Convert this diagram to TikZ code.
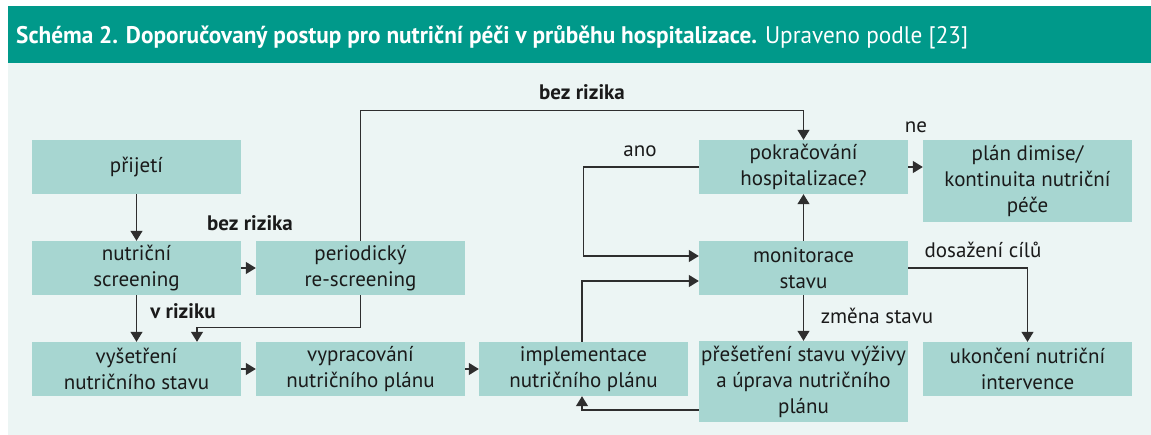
\documentclass[tikz,border=0pt]{standalone}
\usepackage{fontspec}
\usepackage{graphicx}
\setmainfont{PT Sans}
\usetikzlibrary{arrows.meta}

\definecolor{headteal}{HTML}{00998A}
\definecolor{boxfill}{HTML}{A7D6D1}
\definecolor{panelbg}{HTML}{ECF5F4}
\definecolor{inktext}{HTML}{1A1A1A}
\definecolor{linegray}{HTML}{2E2E2E}

\begin{document}
\begin{tikzpicture}[x=1pt,y=-1pt,
    stepbox/.style={rectangle,fill=boxfill,text=inktext,minimum width=209pt,
      minimum height=54pt,inner sep=0pt,align=center,
      font=\fontsize{21}{26}\selectfont},
    tag/.style={text=inktext,inner sep=0pt,font=\fontsize{21}{26}\selectfont},
    boldtag/.style={tag,font=\fontsize{21}{26}\selectfont\bfseries}]
      \useasboundingbox (0,0) rectangle (1151,435);
      \fill[panelbg] (8,63) rectangle (1151,435);
      \fill[headteal] (8,6) rectangle (1151,63);
      \node[anchor=base west,text=white,inner sep=0pt] (title) at (16,44)
        {\resizebox{952pt}{\height}{\fontsize{24}{28}\selectfont\bfseries Schéma 2. Doporučovaný postup pro nutriční péči v průběhu hospitalizace. \mdseries Upraveno podle [23]}};
      \begin{scope}[every node/.style={stepbox}]
        \node (prijeti) at (136.5, 167) {přijetí};
        \node (screening) at (136.5, 268) {nutriční\\screening};
        \node (rescreen) at (360.5, 268) {periodický\\re-screening};
        \node (vysetreni) at (136.5, 369) {vyšetření\\nutričního stavu};
        \node (vyprac) at (360.5, 369) {vypracování\\nutričního plánu};
        \node (impl) at (583.5, 369) {implementace\\nutričního plánu};
        \node (pokr) at (803.5, 167) {pokračování\\hospitalizace?};
        \node (monit) at (803.5, 268) {monitorace\\stavu};
        \node[minimum height=81pt] (preset) at (803.5, 381.5) {přešetření stavu výživy\\a úprava nutričního\\plánu};
        \node[minimum height=82pt] (dimise) at (1027.5, 181) {plán dimise/\\kontinuita nutriční\\péče};
        \node (ukonc) at (1027.5, 369) {ukončení nutriční\\intervence};
      \end{scope}
      \begin{scope}
        \node[boldtag] (bez1) at (250, 223) {bez rizika};
        \node[boldtag] (bez2) at (582, 92) {bez rizika};
        \node[boldtag] (vriz) at (183, 311) {v riziku};
        \node[tag] (ano) at (640, 151) {ano};
        \node[tag] (ne) at (916, 127) {ne};
        \node[tag] (cile) at (983, 250) {dosažení cílů};
        \node[tag] (zmena) at (877, 316) {změna stavu};
      \end{scope}
      \begin{scope}[>={Triangle[width=12pt,length=10pt]},
          every edge/.style={draw=linegray,line width=1.3pt},
          every path/.style={draw=linegray,line width=1.3pt}]
        \path [->] (prijeti) edge (screening);
        \path [->] (screening) edge (rescreen);
        \path [->] (screening) edge (vysetreni);
        \path [->] (vysetreni) edge (vyprac);
        \path [->] (vyprac) edge (impl);
        \path [->] (monit) edge (pokr);
        \path [->] (monit) edge (preset);
        \draw [->] (rescreen.south) -- ++(0,32) -| ([xshift=60.5pt]vysetreni.north);
        \draw [->] (rescreen.north) -- ++(0,-130) -| (pokr.north);
        \draw [->] ([xshift=-1.5pt]impl.north) |- ([yshift=-13pt]monit.west);
        \coordinate (anoin) at ([yshift=12pt]monit.west);
        \draw [->] (pokr.west) -| (anoin -| impl.north) -- (anoin);
        \draw [->] ([yshift=-28.5pt]preset.west) -| ([xshift=-1.5pt]impl.south);
        \draw [->] (pokr.east) -- (pokr.east -| dimise.west);
        \draw [->] (monit.east) -| (ukonc.north);
      \end{scope}
    \end{tikzpicture}
\end{document}
